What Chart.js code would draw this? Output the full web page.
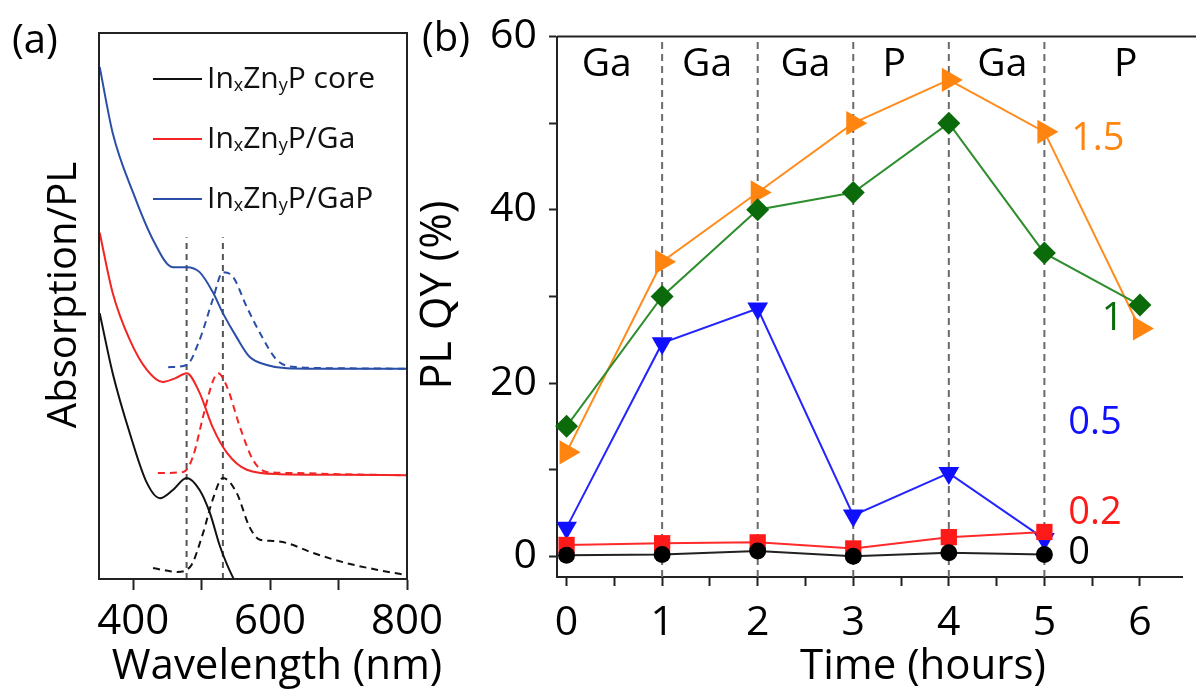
<!DOCTYPE html>
<html>
<head>
<meta charset="utf-8">
<script src="https://cdn.jsdelivr.net/npm/chart.js@4"></script>
<style>
html, body { margin: 0; padding: 0; background: #fff; overflow: hidden; }
#wrap { position: relative; width: 1196px; height: 693px; overflow: hidden; }
#specBox { position: absolute; left: 0; top: 0; width: 460px; height: 693px; }
#qyBox { position: absolute; left: 410px; top: 0; width: 786px; height: 693px; }
</style>
</head>
<body>
<div id="wrap">
  <div id="specBox"><canvas id="spec-chart"></canvas></div>
  <div id="qyBox"><canvas id="qy-chart"></canvas></div>
</div>
<script>
// (a) spectra: [wavelength nm, intensity a.u. (curves offset)]
const coreAbs = [[351,48.7],[370,37.7],[395,26.7],[420,17.6],[439,14.8],[458,16.3],[478,18.5],[497,16.3],[512,12.1],[527,5.9],[546,0.2],[552,-1]];
const corePL  = [[429,2.0],[446,1.6],[464,1.3],[483,2.2],[502,8.4],[516,14.5],[531,18.5],[551,15.8],[570,9.5],[585,7.2],[600,7.0],[624,6.6],[662,4.8],[712,2.9],[760,1.6],[800,0.7]];
const gaAbs   = [[351,63.4],[370,52.4],[395,43.8],[420,38.3],[443,36.1],[462,36.8],[478,37.7],[497,34.1],[516,27.8],[537,23.1],[566,20.0],[614,19.2],[700,19.1],[800,19.0]];
const gaPL    = [[436,19.4],[473,19.6],[487,22.3],[502,29.7],[516,36.1],[524,37.7],[537,35.2],[556,27.8],[575,21.8],[595,19.6],[639,19.4],[700,19.2],[800,19.0]];
const gapAbs  = [[351,93.8],[370,81.7],[400,70.7],[429,62.1],[458,57.1],[478,57.1],[497,56.2],[516,52.6],[531,48.7],[551,44.3],[570,40.7],[595,39.2],[624,38.6],[700,38.5],[800,38.5]];
const gapPL   = [[451,38.8],[478,39.2],[497,43.8],[516,51.1],[531,56.2],[546,55.3],[566,49.8],[585,45.1],[610,40.1],[639,38.8],[700,38.6],[800,38.5]];
const peakGuides = [478, 531];
const peakGuideTop = 62.6;
const wlTicks = [400, 500, 600, 700, 800];
const sampleNames = ['In{x}Zn{y}P core', 'In{x}Zn{y}P/Ga', 'In{x}Zn{y}P/GaP'];

// (b) PL QY (%) vs time (hours), one list per Ga:In ratio
const hours = [0, 1, 2, 3, 4, 5, 6];
const qyRatio0  = [0.1, 0.2, 0.6, 0.0, 0.4, 0.2];
const qyRatio02 = [1.3, 1.5, 1.6, 0.9, 2.2, 2.8];
const qyRatio05 = [3.3, 24.6, 28.6, 4.7, 9.6, 2.0];
const qyRatio1  = [15, 30, 40, 42, 50, 35, 29];
const qyRatio15 = [12, 34, 42, 50, 55, 49, 26.3];
const ratioLabels = ['0', '0.2', '0.5', '1', '1.5'];
const stepNames = ['Ga', 'Ga', 'Ga', 'P', 'Ga', 'P'];
const stepBoundaries = [1, 2, 3, 4, 5];
const qyTicks = [0, 10, 20, 30, 40, 50, 60];
const hourTicks = [0, 0.5, 1, 1.5, 2, 2.5, 3, 3.5, 4, 4.5, 5, 5.5, 6];

const FONT = '"Open Sans", "Noto Sans", sans-serif';
const qyMin = -2.4;

function pairs(list) {
    return list.map(p => ({ x: p[0], y: p[1] }));
}
function series(vals) {
    return vals.map((v, i) => ({ x: hours[i], y: v }));
}

// draws text where {..} parts are subscripts
function drawRich(ctx, text, x, y, size) {
    text.split(/(\{[^}]*\})/).filter(Boolean).forEach(part => {
        const sub = part[0] === '{';
        const t = sub ? part.slice(1, -1) : part;
        ctx.font = (sub ? Math.round(size * 0.6) : size) + 'px ' + FONT;
        ctx.fillText(t, x, sub ? y + size * 0.22 : y);
        x += ctx.measureText(t).width;
    });
}

function drawTitle(ctx, text, x, y, size, vertical) {
    ctx.save();
    ctx.font = size + 'px ' + FONT;
    ctx.fillStyle = '#000';
    ctx.textAlign = 'center';
    ctx.textBaseline = 'middle';
    ctx.translate(x, y);
    if (vertical) ctx.rotate(-Math.PI / 2);
    ctx.fillText(text, 0, 0);
    ctx.restore();
}

// ---------- (a) ----------
const specColors = ['#111111', '#f22424', '#2b4ea6'];

const specDatasets = [
    { data: pairs(coreAbs), borderColor: specColors[0] },
    { data: pairs(corePL), borderColor: specColors[0], borderDash: [7, 5] },
    { data: pairs(gaAbs), borderColor: specColors[1] },
    { data: pairs(gaPL), borderColor: specColors[1], borderDash: [7, 5] },
    { data: pairs(gapAbs), borderColor: specColors[2] },
    { data: pairs(gapPL), borderColor: specColors[2], borderDash: [7, 5] }
].map(d => Object.assign({ borderWidth: 2, pointRadius: 0, cubicInterpolationMode: 'monotone' }, d));

peakGuides.forEach(wl => specDatasets.push({
    data: [{ x: wl, y: 0 }, { x: wl, y: peakGuideTop }],
    borderColor: '#555', borderWidth: 2, borderDash: [6, 5], pointRadius: 0
}));

const specDecor = {
    id: 'specDecor',
    afterDraw(chart) {
        const { ctx, chartArea: a } = chart;
        ctx.save();
        ctx.strokeStyle = '#222';
        ctx.lineWidth = 2;
        ctx.strokeRect(a.left, a.top, a.right - a.left, a.bottom - a.top);
        ctx.fillStyle = '#000';
        ctx.textBaseline = 'middle';
        ctx.textAlign = 'left';
        ctx.font = '40px ' + FONT;
        ctx.fillText('(a)', 12, 42);
        sampleNames.forEach((name, i) => {
            const y = 79 + i * 60;
            ctx.strokeStyle = specColors[i];
            ctx.beginPath();
            ctx.moveTo(153, y);
            ctx.lineTo(202, y);
            ctx.stroke();
            ctx.fillStyle = '#111';
            drawRich(ctx, name, 207, y, 30);
        });
        ctx.restore();
        drawTitle(ctx, 'Wavelength (nm)', 277, 667, 42, false);
        drawTitle(ctx, 'Absorption/PL', 65, 295, 40, true);
    }
};

new Chart(document.querySelector('#spec-chart').getContext('2d'), {
    type: 'line',
    data: { datasets: specDatasets },
    options: {
        responsive: true,
        maintainAspectRatio: false,
        animation: false,
        layout: { padding: { top: 33, right: 53, left: 0, bottom: 0 } },
        plugins: { legend: { display: false }, tooltip: { enabled: false } },
        scales: {
            x: {
                type: 'linear', min: 350, max: 800,
                afterBuildTicks: s => { s.ticks = wlTicks.map(v => ({ value: v })); },
                afterFit: s => { s.height = 114; s.paddingLeft = 0; s.paddingRight = 0; },
                ticks: {
                    autoSkip: false, maxRotation: 0, padding: 7, color: '#000',
                    font: { family: FONT, size: 42 },
                    callback: v => (v % 200 === 0 ? v : '')
                },
                grid: { drawOnChartArea: false, tickLength: 11, tickWidth: 2, tickColor: '#222' },
                border: { color: '#222', width: 2 }
            },
            y: {
                min: 0, max: 100,
                afterFit: s => { s.width = 99; },
                ticks: { display: false },
                grid: { drawOnChartArea: false, drawTicks: false },
                border: { color: '#222', width: 2 }
            }
        }
    },
    plugins: [specDecor]
});

// ---------- (b) ----------
const qyStyles = [
    { vals: qyRatio0,  line: '#222222', fill: '#000000', style: 'circle',   r: 8.5, rot: 0 },
    { vals: qyRatio02, line: '#ff2a2a', fill: '#ff1a1a', style: 'rect',     r: 11.5, rot: 0 },
    { vals: qyRatio05, line: '#2424ff', fill: '#1010ff', style: 'triangle', r: 12, rot: 180 },
    { vals: qyRatio1,  line: '#2e8e2e', fill: '#0b6b0b', style: 'rectRot',  r: 11.5, rot: 0 },
    { vals: qyRatio15, line: '#ff8c1e', fill: '#ff8510', style: 'triangle', r: 14, rot: 90 }
];

const qyDatasets = qyStyles.map((s, i) => ({
    label: ratioLabels[i],
    data: series(s.vals),
    borderColor: s.line,
    borderWidth: 2,
    pointStyle: s.style,
    pointRadius: s.r,
    pointRotation: s.rot,
    pointBackgroundColor: s.fill,
    pointBorderColor: s.fill,
    pointBorderWidth: 0,
    clip: false
}));

stepBoundaries.forEach(h => qyDatasets.push({
    data: [{ x: h, y: qyMin }, { x: h, y: 60 }],
    borderColor: '#6a6a6a', borderWidth: 2, borderDash: [7, 5], pointRadius: 0
}));

const qyDecor = {
    id: 'qyDecor',
    afterDraw(chart) {
        const { ctx, chartArea: a, scales: { x, y } } = chart;
        ctx.save();
        ctx.strokeStyle = '#222';
        ctx.lineWidth = 2;
        ctx.beginPath();
        ctx.moveTo(a.left, a.top);
        ctx.lineTo(chart.width, a.top);
        ctx.stroke();
        ctx.fillStyle = '#000';
        ctx.textBaseline = 'middle';
        ctx.textAlign = 'left';
        ctx.font = '40px ' + FONT;
        ctx.fillText('(b)', 12, 40);
        // step labels centred in each interval
        ctx.textAlign = 'center';
        ctx.font = '39px ' + FONT;
        const stepCentres = [0.42, 1.47, 2.5, 3.43, 4.56, 5.85];
        stepNames.forEach((n, i) => ctx.fillText(n, x.getPixelForValue(stepCentres[i]), y.getPixelForValue(56.7)));
        // ratio labels at the right
        ctx.textAlign = 'left';
        ctx.font = '38px ' + FONT;
        const spots = [[5.25, 0.3], [5.25, 5.0], [5.25, 15.4], [5.6, 27.4], [5.28, 48.2]];
        ratioLabels.forEach((t, i) => {
            ctx.fillStyle = qyStyles[i].fill;
            ctx.fillText(t, x.getPixelForValue(spots[i][0]), y.getPixelForValue(spots[i][1]));
        });
        ctx.restore();
        drawTitle(ctx, 'Time (hours)', 923 - 410, 667, 42, false);
        drawTitle(ctx, 'PL QY (%)', 439 - 410, 295, 43, true);
    }
};

new Chart(document.querySelector('#qy-chart').getContext('2d'), {
    type: 'line',
    data: { datasets: qyDatasets },
    options: {
        responsive: true,
        maintainAspectRatio: false,
        animation: false,
        layout: { padding: { top: 33, right: 0, left: 0, bottom: 0 } },
        plugins: { legend: { display: false }, tooltip: { enabled: false } },
        scales: {
            x: {
                type: 'linear', min: -0.1, max: 6.44,
                afterBuildTicks: s => { s.ticks = hourTicks.map(v => ({ value: v })); },
                afterFit: s => { s.height = 116; s.paddingLeft = 0; s.paddingRight = 0; },
                ticks: {
                    autoSkip: false, maxRotation: 0, padding: 13, color: '#000',
                    font: { family: FONT, size: 41 },
                    callback: v => (Number.isInteger(v) ? v : '')
                },
                grid: { drawOnChartArea: false, tickLength: 9, tickWidth: 2, tickColor: '#222' },
                border: { color: '#222', width: 2 }
            },
            y: {
                min: qyMin, max: 60,
                afterBuildTicks: s => { s.ticks = qyTicks.map(v => ({ value: v })); },
                afterFit: s => { s.width = 147; },
                ticks: {
                    autoSkip: false, padding: 12, color: '#000',
                    font: { family: FONT, size: 41 },
                    callback: v => (v % 20 === 0 ? v : '')
                },
                grid: { drawOnChartArea: false, tickLength: 8, tickWidth: 2, tickColor: '#222' },
                border: { color: '#222', width: 2 }
            }
        }
    },
    plugins: [qyDecor]
});
</script>
</body>
</html>
